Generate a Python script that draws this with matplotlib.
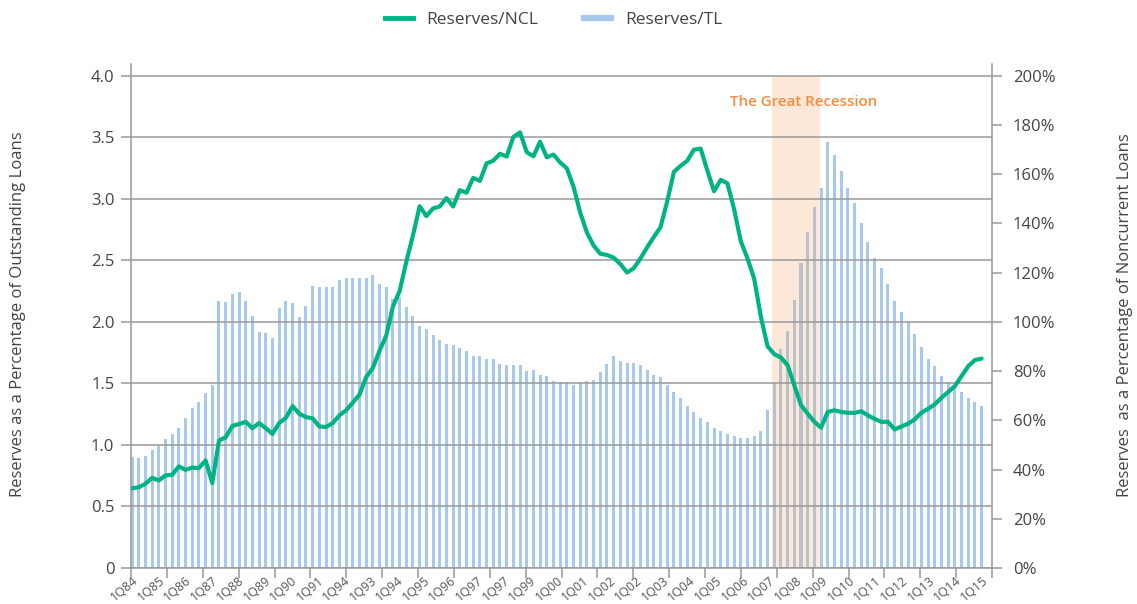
import matplotlib.pyplot as plt
import numpy as np
from matplotlib.lines import Line2D
from matplotlib.ticker import FixedLocator

plt.rcParams["font.family"] = ["Open Sans", "DejaVu Sans"]

# quarterly, 1Q84 .. 4Q15
reserves_tl = [
    0.90, 0.89, 0.91, 0.96, 0.99, 1.05, 1.09, 1.14, 1.22, 1.30, 1.35, 1.42,
    1.49, 2.17, 2.16, 2.23, 2.24, 2.17, 2.05, 1.92, 1.91, 1.87, 2.11, 2.17,
    2.15, 2.04, 2.13, 2.29, 2.28, 2.28, 2.28, 2.34, 2.36, 2.36, 2.36, 2.36,
    2.38, 2.31, 2.28, 2.19, 2.20, 2.12, 2.05, 1.97, 1.94, 1.89, 1.85, 1.82,
    1.81, 1.79, 1.76, 1.72, 1.72, 1.70, 1.70, 1.66, 1.65, 1.65, 1.65, 1.60,
    1.61, 1.57, 1.56, 1.52, 1.51, 1.51, 1.49, 1.51, 1.52, 1.53, 1.59, 1.66,
    1.72, 1.68, 1.67, 1.67, 1.65, 1.61, 1.57, 1.55, 1.49, 1.43, 1.38, 1.32,
    1.27, 1.22, 1.19, 1.14, 1.11, 1.09, 1.07, 1.06, 1.06, 1.07, 1.11, 1.28,
    1.50, 1.78, 1.93, 2.18, 2.48, 2.73, 2.93, 3.09, 3.46, 3.36, 3.23, 3.09,
    2.97, 2.80, 2.65, 2.52, 2.44, 2.31, 2.17, 2.08, 2.00, 1.90, 1.80, 1.70,
    1.64, 1.56, 1.51, 1.48, 1.43, 1.38, 1.35, 1.32,
]
reserves_ncl = [
    32.4, 32.8, 34.2, 36.6, 35.6, 37.6, 37.9, 41.3, 39.9, 40.8, 40.6, 43.7,
    34.5, 51.8, 53.1, 57.7, 58.5, 59.4, 56.8, 58.9, 56.8, 54.5, 58.9, 61.0,
    65.8, 62.7, 61.3, 60.8, 57.5, 57.3, 58.9, 62.0, 64.1, 67.2, 70.4, 77.5,
    81.3, 88.3, 94.4, 106.3, 112.5, 124.4, 135.2, 147.0, 143.0, 146.1, 146.9, 150.3,
    146.9, 153.5, 152.5, 158.5, 157.3, 164.4, 165.5, 168.3, 167.2, 175.1, 177.0, 169.0,
    167.3, 173.2, 166.9, 168.0, 164.8, 162.4, 154.9, 144.4, 136.3, 131.0, 127.7, 127.2,
    126.1, 123.5, 120.1, 121.8, 125.8, 130.3, 134.5, 138.5, 148.9, 161.0, 163.4, 165.5,
    170.0, 170.4, 161.5, 153.1, 157.7, 156.3, 145.8, 132.8, 125.8, 117.6, 102.1, 90.1,
    86.9, 85.5, 82.4, 74.2, 66.2, 62.7, 59.4, 57.0, 63.4, 64.1, 63.4, 63.1,
    63.0, 63.7, 62.0, 60.6, 59.4, 59.4, 56.3, 57.5, 58.6, 60.4, 63.1, 64.7,
    66.5, 69.2, 71.5, 73.9, 78.0, 82.0, 84.5, 85.1,
]
# labels as printed on the original chart
year_labels = [
    "1Q84", "1Q85", "1Q86", "1Q87", "1Q88", "1Q89", "1Q90", "1Q91", "1Q94", "1Q93", "1Q94",
    "1Q95", "1Q96", "1Q97", "1Q97", "1Q99", "1Q00", "1Q01", "1Q02", "1Q02", "1Q03", "1Q04",
    "1Q05", "1Q06", "1Q07", "1Q08", "1Q09", "1Q10", "1Q11", "1Q12", "1Q13", "1Q14", "1Q15",
]
left_ticks = [0, 0.5, 1.0, 1.5, 2.0, 2.5, 3.0, 3.5, 4.0]
left_tick_labels = ["0", "0.5", "1.0", "1.5", "2.0", "2.5", "3.0", "3.5", "4.0"]
right_ticks = [0, 20, 40, 60, 80, 100, 120, 140, 160, 180, 200]
recession_start, recession_end = 95.7, 102.8

GRID = "#999999"
BAR_BLUE = "#a6c9ec"
LINE_GREEN = "#00b383"
SHADE = "#f4ad78"
TEXT = "#444444"

quarters = np.arange(len(reserves_tl))
x_left, x_right = -0.15, 128.55

fig = plt.figure(figsize=(11.37, 6.04), dpi=100)
ax = fig.add_axes([131 / 1137, 36 / 604, 861 / 1137, 504.5 / 604])

ax.bar(quarters, reserves_tl, width=0.45, color=BAR_BLUE, zorder=1)
ax.axvspan(recession_start, recession_end, ymin=0, ymax=4.0 / 4.1, color=SHADE, alpha=0.28, lw=0, zorder=1.5)
ax.text(100.4, 3.79, "The Great Recession", color="#f58b3f",
        fontsize=10.8, fontweight="semibold", ha="center", va="center")

ax.set_xlim(x_left, x_right)
ax.set_ylim(0, 4.1)
ax.set_yticks(left_ticks, left_tick_labels)
ax.yaxis.grid(True, color=GRID, lw=1.1)
ax.set_axisbelow(False)

label_pos = np.linspace(0, len(reserves_tl) - 1, len(year_labels))
ax.set_xticks(label_pos, year_labels, rotation=40, ha="right", va="top", rotation_mode="anchor")
ax.xaxis.set_minor_locator(FixedLocator(np.linspace(x_left, x_right, 25)))
ax.tick_params(axis="x", which="major", length=0, pad=4, labelsize=9, labelcolor="#555555")
ax.tick_params(axis="x", which="minor", length=7, width=1.1, color=GRID)
ax.tick_params(axis="y", length=7, width=1.1, color=GRID, labelsize=12, labelcolor=TEXT, pad=5)

for side in ("top", "right"):
    ax.spines[side].set_visible(False)
for side in ("left", "bottom"):
    ax.spines[side].set_color(GRID)
    ax.spines[side].set_linewidth(1.1)

ax2 = ax.twinx()
ax2.plot(quarters, reserves_ncl, color=LINE_GREEN, lw=3.0, solid_joinstyle="round", solid_capstyle="round")
ax2.set_ylim(0, 205)
ax2.set_yticks(right_ticks, [f"{v}%" for v in right_ticks])
ax2.tick_params(axis="y", length=7, width=1.1, color=GRID, labelsize=12, labelcolor=TEXT, pad=8)
for side in ("top", "left", "bottom"):
    ax2.spines[side].set_visible(False)
ax2.spines["right"].set_color(GRID)
ax2.spines["right"].set_linewidth(1.1)

fig.text(18 / 1137, 1 - 314 / 604, "Reserves as a Percentage of Outstanding Loans", rotation=90,
         ha="center", va="center", fontsize=12, color=TEXT)
fig.text(1125 / 1137, 1 - 315 / 604, "Reserves  as a Percentage of Noncurrent Loans", rotation=90,
         ha="center", va="center", fontsize=12, color=TEXT)

handles = [
    Line2D([], [], color=LINE_GREEN, lw=3.5),
    Line2D([], [], color=BAR_BLUE, lw=4.5),
]
fig.legend(handles, ["Reserves/NCL", "Reserves/TL"], loc="center", bbox_to_anchor=(0.487, 0.967),
           ncol=2, frameon=False, fontsize=12.5, handlelength=1.6, columnspacing=2.6, labelcolor=TEXT)

fig.savefig("out.png", dpi=100)
